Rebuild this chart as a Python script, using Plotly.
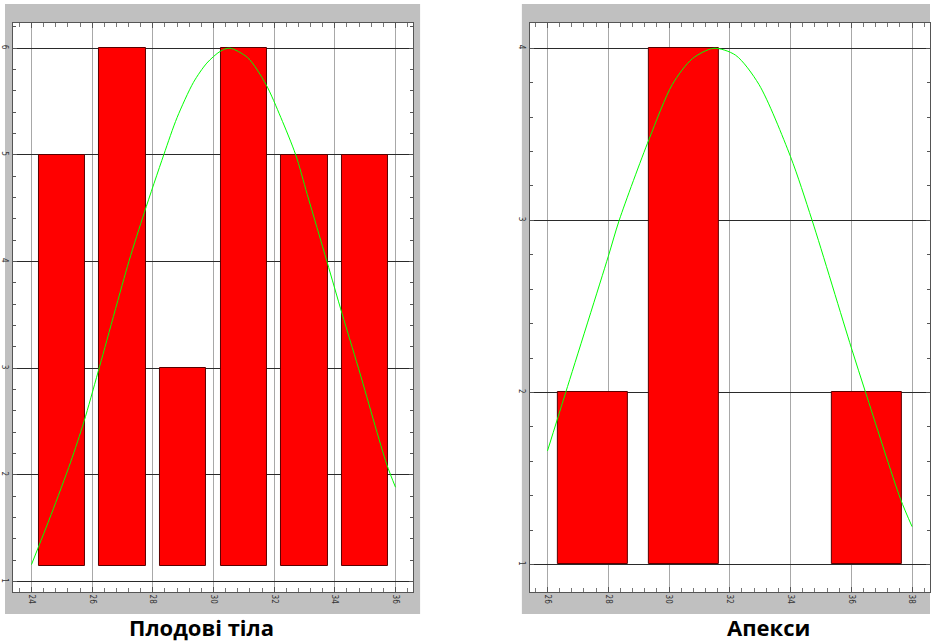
import plotly.graph_objects as go

# ---------------- data ----------------
left_bins = [25, 27, 29, 31, 33, 35]
left_counts = [5, 6, 3, 6, 5, 5]
left_base = 1.15
left_bar_width = 1.52
left_curve_x = [24.0, 24.65, 25.29, 25.73, 26.2, 27.21, 27.72, 28.36, 28.80, 29.34, 29.78, 30.22, 30.53,
                31.13, 31.73, 32.22, 32.71, 33.09, 33.74, 34.24, 34.78, 35.71, 36.0]
left_curve_y = [1.16, 1.63, 2.12, 2.50, 2.97, 4.0, 4.46, 5.0, 5.35, 5.68, 5.86, 5.97, 6.0,
                5.91, 5.66, 5.35, 5.0, 4.63, 4.0, 3.51, 3.0, 2.10, 1.885]
left_title = "Плодові тіла"

right_bins = [27.5, 30.5, 36.5]
right_counts = [2, 4, 2]
right_base = 1.0
right_bar_width = 2.3
right_curve_x = [26.0, 26.60, 28.0, 28.36, 29.34, 30.11, 30.77, 31.48, 32.19, 32.96,
                 34.0, 34.71, 36.0, 36.47, 37.62, 38.0]
right_curve_y = [1.66, 2.0, 2.79, 3.0, 3.47, 3.79, 3.94, 4.0, 3.96, 3.79,
                 3.37, 3.0, 2.26, 2.0, 1.38, 1.22]
right_title = "Апекси"

W, H = 931, 644

def px(x):
    return x / W

def py(y):
    return 1 - y / H

fig = go.Figure()

bar_style = dict(marker=dict(color="#ff0000", line=dict(color="#5a0000", width=1)),
                 showlegend=False, hoverinfo="skip")

fig.add_trace(go.Bar(x=left_bins, y=[c - left_base for c in left_counts], base=left_base,
                     width=left_bar_width, xaxis="x", yaxis="y", **bar_style))
fig.add_trace(go.Scatter(x=left_curve_x, y=left_curve_y, mode="lines",
                         line=dict(color="#00ff00", width=1, shape="spline", smoothing=0.8),
                         xaxis="x", yaxis="y", showlegend=False, hoverinfo="skip"))
fig.add_trace(go.Bar(x=right_bins, y=[c - right_base for c in right_counts], base=right_base,
                     width=right_bar_width, xaxis="x2", yaxis="y2", **bar_style))
fig.add_trace(go.Scatter(x=right_curve_x, y=right_curve_y, mode="lines",
                         line=dict(color="#00ff00", width=1, shape="spline", smoothing=0.8),
                         xaxis="x2", yaxis="y2", showlegend=False, hoverinfo="skip"))

tickfont = dict(family="DejaVu Sans Condensed, DejaVu Sans", size=8, color="#333333")

def xaxis(domain, rng, anchor):
    return dict(domain=domain, range=rng, anchor=anchor, dtick=2, tick0=0,
                showgrid=True, gridcolor="#a8a8a8", gridwidth=1, zeroline=False,
                showline=True, linecolor="#555555", linewidth=1, mirror="ticks",
                ticks="inside", ticklen=5, tickcolor="#555555", tickangle=90,
                tickfont=tickfont,
                minor=dict(dtick=0.4, ticks="inside", ticklen=4, tickcolor="#777777", showgrid=False))

def yaxis(domain, rng, anchor):
    return dict(domain=domain, range=rng, anchor=anchor, dtick=1, tick0=0,
                showgrid=True, gridcolor="#2a2a2a", gridwidth=1, zeroline=False,
                showline=True, linecolor="#555555", linewidth=1, mirror="ticks",
                ticks="inside", ticklen=4, tickcolor="#555555", tickangle=90,
                tickfont=tickfont,
                minor=dict(dtick=0.2, ticks="inside", ticklen=3, tickcolor="#555555", showgrid=False))

ydom = [py(592), py(23)]

fig.update_layout(
    width=W, height=H,
    margin=dict(l=0, r=0, t=0, b=0),
    paper_bgcolor="white",
    plot_bgcolor="rgba(0,0,0,0)",
    bargap=0,
    xaxis=xaxis([px(12), px(413)], [23.39, 36.58], "y"),
    yaxis=yaxis(ydom, [0.903, 6.236], "x"),
    xaxis2=xaxis([px(530), 1.0], [25.42, 38.59], "y2"),
    yaxis2=yaxis(ydom, [0.84, 4.147], "x2"),
    shapes=[
        dict(type="rect", xref="paper", yref="paper", x0=px(4), x1=px(420), y0=py(614), y1=py(4),
             fillcolor="#c0c0c0", line=dict(width=0), layer="below"),
        dict(type="rect", xref="paper", yref="paper", x0=px(522), x1=1.0, y0=py(614), y1=py(4),
             fillcolor="#c0c0c0", line=dict(width=0), layer="below"),
        dict(type="rect", xref="paper", yref="paper", x0=px(12), x1=px(413), y0=py(592), y1=py(23),
             fillcolor="white", line=dict(width=0), layer="below"),
        dict(type="rect", xref="paper", yref="paper", x0=px(530), x1=1.0, y0=py(592), y1=py(23),
             fillcolor="white", line=dict(width=0), layer="below"),
    ],
    annotations=[
        dict(text="<b>" + left_title + "</b>", x=px(201), y=py(643), xref="paper", yref="paper",
             showarrow=False, xanchor="center", yanchor="bottom", borderpad=0,
             font=dict(family="Open Sans", size=22, color="black")),
        dict(text="<b>" + right_title + "</b>", x=px(769), y=py(643), xref="paper", yref="paper",
             showarrow=False, xanchor="center", yanchor="bottom", borderpad=0,
             font=dict(family="Open Sans", size=22, color="black")),
    ],
)

fig.write_html(
    "out.html",
    config={"displayModeBar": False},
    post_script="document.body.style.margin='0';document.body.style.padding='0';"
                "document.body.style.overflow='hidden';",
)
